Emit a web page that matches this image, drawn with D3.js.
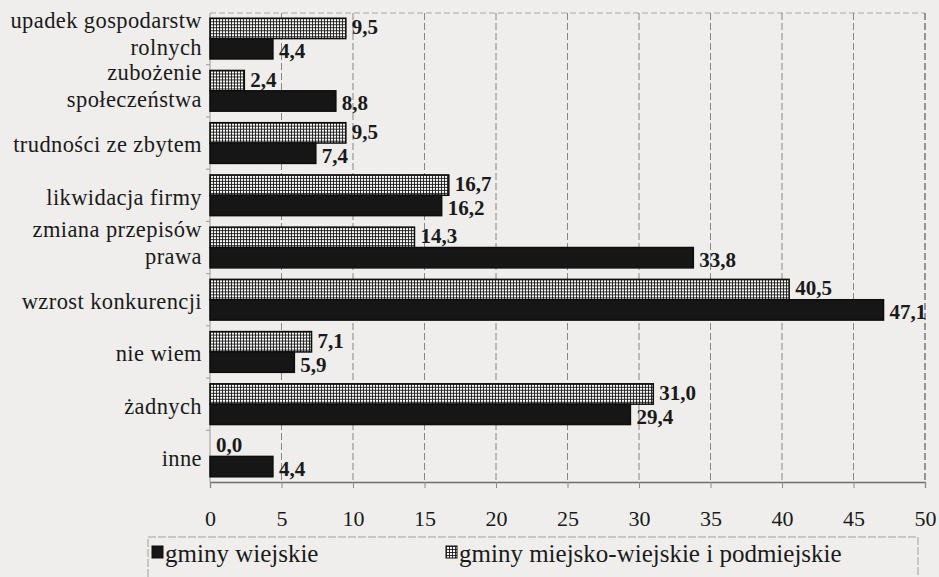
<!DOCTYPE html>
<html>
<head>
<meta charset="utf-8">
<script src="https://cdn.jsdelivr.net/npm/d3@7"></script>
<style>
  html, body { margin: 0; padding: 0; background: #efeeec; }
  svg { display: block; }
  text { font-family: "Liberation Serif", "DejaVu Serif", serif; fill: #1a1a1a; }
</style>
</head>
<body>
<svg id="chart"></svg>
<script>
const W = 939, H = 577;

// ── Data ──
const categories = [
    'upadek gospodarstw rolnych',
    'zubożenie społeczeństwa',
    'trudności ze zbytem',
    'likwidacja firmy',
    'zmiana przepisów prawa',
    'wzrost konkurencji',
    'nie wiem',
    'żadnych',
    'inne'
];
const labelLines = [
    ['upadek gospodarstw', 'rolnych'],
    ['zubożenie', 'społeczeństwa'],
    ['trudności ze zbytem'],
    ['likwidacja firmy'],
    ['zmiana przepisów', 'prawa'],
    ['wzrost konkurencji'],
    ['nie wiem'],
    ['żadnych'],
    ['inne']
];
const miejskoWiejskie = [9.5, 2.4, 9.5, 16.7, 14.3, 40.5, 7.1, 31.0, 0.0];
const wiejskie        = [4.4, 8.8, 7.4, 16.2, 33.8, 47.1, 5.9, 29.4, 4.4];
const seriesKeys   = ['mw', 'w'];
const seriesNames  = { w: 'gminy wiejskie', mw: 'gminy miejsko-wiejskie i podmiejskie' };
const xTicks = [0, 5, 10, 15, 20, 25, 30, 35, 40, 45, 50];

const rows = categories.map((c, i) => ({
    cat: c, lines: labelLines[i], mw: miejskoWiejskie[i], w: wiejskie[i]
}));

const svg = d3.select('#chart').attr('width', W).attr('height', H);

// hatched (fine grid) pattern
const defs = svg.append('defs');
const pat = defs.append('pattern')
    .attr('id', 'mesh')
    .attr('patternUnits', 'userSpaceOnUse')
    .attr('width', 3).attr('height', 3);
pat.append('rect').attr('width', 3).attr('height', 3).attr('fill', '#f7f7f5');
pat.append('path').attr('d', 'M0,0.5H3M0.5,0V3').attr('stroke', '#1a1a1a').attr('stroke-width', 0.9);

const plotL = 210, plotR = 925, plotT = 13, plotB = 482;

const x = d3.scaleLinear().domain([0, 50]).range([plotL, plotR]);
const y = d3.scaleBand().domain(categories).range([plotT, plotB])
    .paddingInner(0.22).paddingOuter(0.1);
const ySub = d3.scaleBand().domain(seriesKeys).range([0, y.bandwidth()]);

// ── Grid & frame ──
svg.append('line')
    .attr('x1', plotL).attr('x2', plotR).attr('y1', plotT).attr('y2', plotT)
    .attr('stroke', '#a8a8a8').attr('stroke-dasharray', '6,3');

svg.append('g')
    .selectAll('line')
    .data(xTicks.slice(1))
    .join('line')
    .attr('x1', d => x(d)).attr('x2', d => x(d))
    .attr('y1', plotT).attr('y2', plotB)
    .attr('stroke', d => d === 50 ? '#666' : '#7a7a7a')
    .attr('stroke-width', d => d === 50 ? 1.3 : 0.9)
    .attr('stroke-dasharray', '7,3');

// y axis line and small ticks between groups
svg.append('line')
    .attr('x1', plotL).attr('x2', plotL).attr('y1', plotT).attr('y2', plotB)
    .attr('stroke', '#9a9a9a');

svg.append('g')
    .selectAll('line')
    .data(categories.slice(1))
    .join('line')
    .attr('x1', plotL - 4).attr('x2', plotL)
    .attr('y1', d => y(d) - y.step() * y.paddingInner() / 2)
    .attr('y2', d => y(d) - y.step() * y.paddingInner() / 2)
    .attr('stroke', '#9a9a9a');

// x axis
const xAxis = svg.append('g')
    .attr('transform', `translate(0,${plotB})`)
    .call(d3.axisBottom(x).tickValues(xTicks).tickSize(6).tickPadding(22).tickFormat(d3.format('d')));
xAxis.select('.domain').attr('stroke', '#6e6e6e').attr('stroke-width', 1.3);
xAxis.selectAll('.tick line').attr('stroke', '#8a8a8a');
xAxis.selectAll('.tick text')
    .attr('font-family', '"Liberation Serif", "DejaVu Serif", serif')
    .attr('font-size', 22)
    .attr('fill', '#1a1a1a');

// ── Bars ──
const groups = svg.append('g')
    .selectAll('g')
    .data(rows)
    .join('g')
    .attr('transform', d => `translate(0,${y(d.cat)})`);

groups.selectAll('rect')
    .data(d => seriesKeys.map(k => ({ key: k, value: d[k] })))
    .join('rect')
    .attr('x', x(0))
    .attr('y', d => ySub(d.key))
    .attr('width', d => x(d.value) - x(0))
    .attr('height', ySub.bandwidth())
    .attr('fill', d => d.key === 'mw' ? 'url(#mesh)' : '#161616')
    .attr('stroke', d => d.value > 0 ? '#0d0d0d' : 'none')
    .attr('stroke-width', 1.5);

groups.selectAll('text.val')
    .data(d => seriesKeys.map(k => ({ key: k, value: d[k] })))
    .join('text')
    .attr('class', 'val')
    .attr('x', d => x(d.value) + 6)
    .attr('y', d => ySub(d.key) + ySub.bandwidth() / 2)
    .attr('dy', d => d.key === 'mw' ? '0.28em' : '0.45em')
    .attr('font-size', 21)
    .attr('font-weight', 'bold')
    .text(d => d3.format('.1f')(d.value).replace('.', ','));

// ── Category labels ──
const catLabels = svg.append('g')
    .selectAll('text')
    .data(rows)
    .join('text')
    .attr('text-anchor', 'end')
    .attr('font-size', 22.5)
    .attr('letter-spacing', 0.4)
    .attr('x', plotL - 8)
    .attr('y', d => y(d.cat) + y.bandwidth() / 2);

catLabels.selectAll('tspan')
    .data(d => d.lines.map((t, i) => ({ t, i, n: d.lines.length })))
    .join('tspan')
    .attr('x', plotL - 8)
    .attr('dy', d => d.n === 1 ? '0.42em' : (d.i === 0 ? '-0.48em' : '1.22em'))
    .text(d => d.t);

// ── Legend ──
const legend = svg.append('g');
legend.append('rect')
    .attr('x', 148).attr('y', 537).attr('width', 770).attr('height', 60)
    .attr('fill', 'none').attr('stroke', '#a0a0a0').attr('stroke-dasharray', '8,2');

const legendItems = [
    { key: 'w', x: 152 },
    { key: 'mw', x: 446 }
];
const li = legend.selectAll('g.item')
    .data(legendItems)
    .join('g')
    .attr('class', 'item')
    .attr('transform', d => `translate(${d.x},546)`);
li.append('rect')
    .attr('width', 11).attr('height', 12)
    .attr('fill', d => d.key === 'w' ? '#161616' : 'url(#mesh)')
    .attr('stroke', '#111').attr('stroke-width', 1);
li.append('text')
    .attr('x', 13).attr('y', 16)
    .attr('font-size', 25)
    .text(d => seriesNames[d.key]);
</script>
</body>
</html>
